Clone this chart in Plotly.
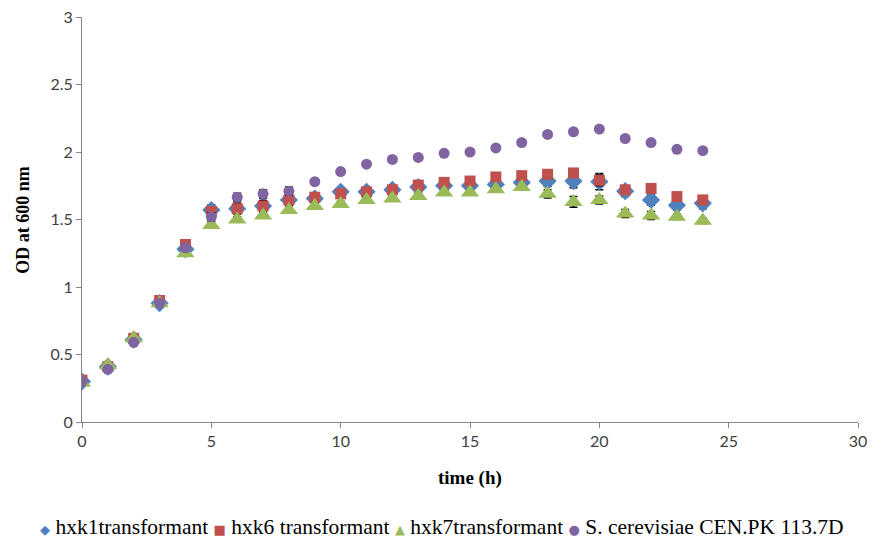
import plotly.graph_objects as go

time_h = list(range(0, 25))

hxk1 = [0.30, 0.41, 0.61, 0.88, 1.28, 1.57, 1.58, 1.60, 1.645, 1.655, 1.705, 1.705, 1.72, 1.74,
        1.75, 1.75, 1.76, 1.775, 1.785, 1.785, 1.78, 1.71, 1.645, 1.605, 1.62]
hxk1_err = [0.01, 0.01, 0.02, 0.02, 0.02, 0.04, 0.06, 0.06, 0.06, 0.02, 0.02, 0.02, 0.02, 0.02,
            0.02, 0.02, 0.02, 0.02, 0.04, 0.05, 0.06, 0.04, 0.04, 0.03, 0.04]

hxk6 = [0.31, 0.41, 0.62, 0.90, 1.315, 1.56, 1.58, 1.60, 1.645, 1.665, 1.69, 1.705, 1.72, 1.755,
        1.775, 1.785, 1.815, 1.825, 1.835, 1.845, 1.79, 1.72, 1.73, 1.67, 1.645]
hxk6_err = [0.01, 0.01, 0.02, 0.02, 0.02, 0.03, 0.04, 0.04, 0.04, 0.02, 0.02, 0.02, 0.02, 0.02,
            0.02, 0.02, 0.02, 0.02, 0.02, 0.02, 0.04, 0.02, 0.02, 0.02, 0.02]

hxk7 = [0.29, 0.42, 0.62, 0.88, 1.25, 1.46, 1.50, 1.53, 1.57, 1.60, 1.615, 1.645, 1.655, 1.675,
        1.70, 1.70, 1.725, 1.74, 1.69, 1.63, 1.645, 1.545, 1.53, 1.52, 1.49]
hxk7_err = [0.01, 0.01, 0.02, 0.02, 0.02, 0.02, 0.02, 0.02, 0.02, 0.02, 0.02, 0.02, 0.02, 0.02,
            0.02, 0.02, 0.02, 0.02, 0.03, 0.04, 0.03, 0.03, 0.03, 0.02, 0.02]

cenpk = [0.30, 0.39, 0.59, 0.88, 1.29, 1.52, 1.665, 1.69, 1.71, 1.78, 1.855, 1.91, 1.945, 1.96,
         1.99, 2.00, 2.03, 2.07, 2.13, 2.15, 2.17, 2.10, 2.07, 2.02, 2.01]
cenpk_err = [0.01, 0.01, 0.01, 0.01, 0.01, 0.03, 0.03, 0.03, 0.03, 0.01, 0.01, 0.01, 0.01, 0.01,
             0.01, 0.01, 0.01, 0.02, 0.01, 0.01, 0.01, 0.01, 0.01, 0.01, 0.01]

names = ["hxk1transformant", "hxk6 transformant", "hxk7transformant", "S. cerevisiae CEN.PK 113.7D"]
colors = ["#4F81BD", "#C0504D", "#9BBB59", "#8064A2"]
symbols = ["diamond", "square", "triangle-up", "circle"]
legend_glyphs = ["◆", "■", "▲", "●"]
sizes = [14, 11, 16, 11]
series = [hxk1, hxk6, hxk7, cenpk]
errors = [hxk1_err, hxk6_err, hxk7_err, cenpk_err]

fig = go.Figure()
for n, c, s, sz, y, e in zip(names, colors, symbols, sizes, series, errors):
    fig.add_trace(go.Scatter(
        x=time_h, y=y, mode="markers", name=n, showlegend=False,
        marker=dict(color=c, symbol=s, size=sz, line=dict(width=0)),
        error_y=dict(type="data", array=e, visible=True, color="black", thickness=1.5, width=4),
    ))

# Legend built as one text line with coloured glyphs
legend_parts = []
for n, c, g in zip(names, colors, legend_glyphs):
    legend_parts.append(
        f"<span style='color:{c};font-size:13px;font-family:DejaVu Sans'>{g}</span> {n}"
    )
legend_text = " ".join(legend_parts)

axis_font = dict(family="Lato, Open Sans, sans-serif", size=16, color="#404040")
fig.update_layout(
    width=873, height=544,
    margin=dict(l=82, r=15, t=17, b=122),
    plot_bgcolor="white", paper_bgcolor="white",
    showlegend=False,
    xaxis=dict(range=[0, 30], tickvals=[0, 5, 10, 15, 20, 25, 30], showgrid=False, zeroline=False,
               showline=True, linecolor="#868686", linewidth=1, ticks="outside", ticklen=5,
               tickcolor="#868686", tickfont=axis_font, automargin=False),
    yaxis=dict(range=[0, 3], tickvals=[0, 0.5, 1, 1.5, 2, 2.5, 3], showgrid=False, zeroline=False,
               showline=True, linecolor="#868686", linewidth=1, ticks="outside", ticklen=5,
               tickcolor="#868686", tickfont=axis_font, automargin=False),
    annotations=[
        dict(text="<b>time (h)</b>", xref="paper", yref="paper", x=0.5, y=-0.138,
             xanchor="center", yanchor="middle", showarrow=False,
             font=dict(family="Liberation Serif", size=19, color="black")),
        dict(text="<b>OD at 600 nm</b>", xref="paper", yref="paper", x=-0.077, y=0.5,
             xanchor="center", yanchor="middle", showarrow=False, textangle=-90,
             font=dict(family="Liberation Serif", size=18, color="black")),
        dict(text=legend_text, xref="paper", yref="paper", x=0.464, y=-0.259,
             xanchor="center", yanchor="middle", showarrow=False,
             font=dict(family="Liberation Serif", size=21.5, color="black")),
    ],
)

fig.write_html("out.html")
